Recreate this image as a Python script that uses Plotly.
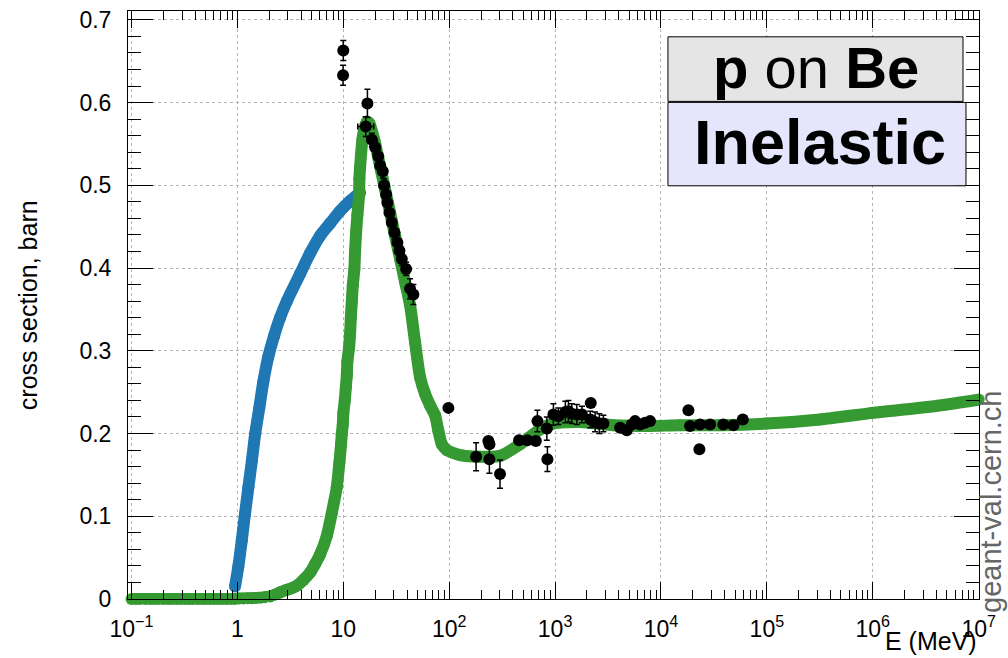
import plotly.graph_objects as go

# ---- model curves (E in MeV, cross section in barn) ----
green_E = [0.1, 0.11, 0.12, 0.135, 0.15, 0.165, 0.18, 0.2, 0.22, 0.24, 0.265, 0.29, 0.32,
           0.35, 0.38, 0.42, 0.46, 0.5, 0.55, 0.6, 0.66, 0.72, 0.79, 0.87, 0.95, 1.04,
           1.14, 1.25, 1.37, 1.5, 1.65, 1.8, 2.04, 2.25, 2.53, 2.9, 3.25, 3.64, 4.2,
           4.86, 5.4, 6.04, 6.98, 7.79, 8.68, 9.19,
           9.53, 9.67, 9.89, 10.02, 10.33, 10.56, 10.79, 10.93, 11.34, 11.60, 11.78,
           12.03, 12.29, 12.73, 12.92, 13.21, 13.59, 14.10, 14.19, 14.41, 14.73, 15.15,
           15.82, 16.67, 17.64, 19.97, 22.26, 24.81, 27.67, 30.84, 34.39, 38.34, 42.74,
           47.64, 53.1, 59.2, 66.0, 73.6, 79.1, 85.2, 94.9, 126.7, 195.7, 302.4, 467,
           722, 958, 1722, 3530, 7393, 15140, 36140, 1.0e5, 3.18e5, 1.0e6, 3.26e6, 1.0e7]
green_xs = [0.0, 0.0, 0.0, 0.0, 0.0, 0.0, 0.0, 0.0, 0.0, 0.0, 0.0, 0.0, 0.0,
            0.0, 0.0, 0.0, 0.0, 0.0, 0.0, 0.0, 0.0, 0.0, 0.0, 0.0, 0.0, 0.0005,
            0.0006, 0.0008, 0.001, 0.0012, 0.0015, 0.002, 0.003, 0.005, 0.008, 0.011, 0.013,
            0.016, 0.023, 0.032, 0.042, 0.054, 0.076, 0.104, 0.135,
            0.165, 0.187, 0.199, 0.211, 0.225, 0.240, 0.255, 0.270, 0.287, 0.304, 0.321,
            0.340, 0.359, 0.379, 0.399, 0.420, 0.443, 0.464, 0.488, 0.508, 0.522, 0.538,
            0.555, 0.569, 0.577, 0.575, 0.551, 0.523, 0.495, 0.467, 0.439, 0.411, 0.383,
            0.355, 0.310, 0.268, 0.248, 0.234, 0.222, 0.203, 0.187, 0.180, 0.174, 0.172,
            0.173, 0.187, 0.205, 0.212, 0.214, 0.210, 0.209, 0.210, 0.210, 0.212, 0.217,
            0.225, 0.232, 0.241]

blue_E = [0.95, 1.02, 1.10, 1.18, 1.27, 1.37, 1.47, 1.61, 1.76, 1.96, 2.22, 2.53, 2.93,
          3.91, 4.86, 6.04, 7.50, 9.33, 11.6, 14.4]
blue_xs = [0.015, 0.039, 0.071, 0.103, 0.135, 0.167, 0.199, 0.231, 0.263, 0.293, 0.318,
           0.340, 0.360, 0.393, 0.418, 0.439, 0.454, 0.469, 0.481, 0.491]

# ---- measurements ----
exp_E = [10.0, 9.95, 16.9, 16.3, 18.6, 20.0, 21.4, 22.3, 23.6, 24.3, 25.4, 26.1, 27.3,
         28.7, 30.4, 32.4, 33.9, 35.7, 39.2, 42.7, 45.9, 98.3, 179.5, 234.5, 240.0, 239.6,
         302, 457, 547, 658, 681, 836, 846, 964, 1075, 1250, 1336, 1438, 1603, 1795, 2173,
         2150, 2388, 2618, 2858, 4111, 4755, 5300, 5693, 6350, 7080, 7890, 18150, 18830,
         23050, 23400, 29100, 38800, 48300, 59200]
exp_xs = [0.663, 0.633, 0.599, 0.571, 0.555, 0.546, 0.535, 0.524, 0.517, 0.500, 0.489,
          0.479, 0.467, 0.455, 0.443, 0.431, 0.421, 0.411, 0.399, 0.375, 0.368, 0.231,
          0.172, 0.191, 0.187, 0.169, 0.151, 0.192, 0.192, 0.191, 0.215, 0.206, 0.169,
          0.223, 0.221, 0.226, 0.227, 0.224, 0.223, 0.223, 0.237, 0.217, 0.214, 0.212,
          0.212, 0.207, 0.204, 0.211, 0.215, 0.211, 0.213, 0.215, 0.228, 0.209, 0.181,
          0.211, 0.211, 0.211, 0.210, 0.217]
exp_err = [0.012, 0.012, 0.017, 0.012, 0.008, 0.008, 0.008, 0.008, 0.008, 0.008, 0.008,
           0.008, 0.008, 0.008, 0.008, 0.008, 0.008, 0.008, 0.008, 0.012, 0.012, 0.003,
           0.017, 0.004, 0.004, 0.017, 0.017, 0.004, 0.004, 0.004, 0.013, 0.014, 0.015,
           0.013, 0.010, 0.013, 0.013, 0.012, 0.012, 0.010, 0.004, 0.010, 0.012, 0.012,
           0.010, 0.003, 0.003, 0.003, 0.003, 0.003, 0.003, 0.003, 0.002, 0.002, 0.002,
           0.002, 0.002, 0.002, 0.002, 0.002]
exp_Eerr_hi = [0.0] * len(exp_E)
exp_Eerr_lo = [0.0] * len(exp_E)
exp_Eerr_hi[3] = 3.1
exp_Eerr_lo[3] = 2.6

# ---- axis ticks ----
x_tickvals = [0.1, 1, 10, 1e2, 1e3, 1e4, 1e5, 1e6, 1e7]
x_ticktext = ["10<sup>\u22121</sup>", "1", "10", "10<sup>2</sup>", "10<sup>3</sup>",
              "10<sup>4</sup>", "10<sup>5</sup>", "10<sup>6</sup>", "10<sup>7</sup>"]
x_minor = [k * 10.0 ** n for n in range(-1, 7) for k in range(2, 10)]

FONT = "Liberation Sans, Arial, Helvetica, sans-serif"
BLUE = "#1f77b4"
GREEN = "#359a32"
BAND = 12

fig = go.Figure()

fig.add_trace(go.Scatter(
    x=blue_E, y=blue_xs, mode="lines+markers", cliponaxis=False,
    line=dict(color=BLUE, width=BAND, shape="spline", smoothing=0.8),
    marker=dict(color=BLUE, size=BAND),
    hoverinfo="skip"))

fig.add_trace(go.Scatter(
    x=green_E, y=green_xs, mode="lines+markers", cliponaxis=False,
    line=dict(color=GREEN, width=BAND, shape="spline", smoothing=0.6),
    marker=dict(color=GREEN, size=BAND),
    hoverinfo="skip"))

fig.add_trace(go.Scatter(
    x=exp_E, y=exp_xs, mode="markers", cliponaxis=False,
    marker=dict(color="black", size=12),
    error_y=dict(type="data", array=exp_err, color="black", thickness=1.5, width=3),
    error_x=dict(type="data", array=exp_Eerr_hi, arrayminus=exp_Eerr_lo,
                 color="black", thickness=1.5, width=3),
    hoverinfo="skip"))

axis_common = dict(
    showline=True, linecolor="black", linewidth=1, mirror="ticks",
    ticks="inside", tickcolor="black", tickwidth=1,
    showgrid=True, gridcolor="#b4b4b4", griddash="dot", gridwidth=1,
    zeroline=False,
    tickfont=dict(family=FONT, size=23, color="black"),
)

fig.update_xaxes(
    type="log", range=[-1.033, 7.003],
    tickmode="array", tickvals=x_tickvals, ticktext=x_ticktext, ticklen=17,
    ticklabelstandoff=9,
    minor=dict(tickmode="array", tickvals=x_minor, ticks="inside", ticklen=9,
               tickcolor="black", showgrid=False),
    **axis_common)

fig.update_yaxes(
    range=[0, 0.7107], dtick=0.1, ticklen=25, ticklabelstandoff=11,
    minor=dict(dtick=0.02, ticks="inside", ticklen=13, tickcolor="black", showgrid=False),
    **axis_common)

annotations = [
    dict(text="cross section, barn", xref="paper", yref="paper", x=-0.118, y=0.499,
         textangle=-90, showarrow=False, xanchor="center", yanchor="middle",
         font=dict(family=FONT, size=25, color="black")),
    dict(text="E (MeV)", xref="paper", yref="paper", x=0.9436, y=-0.0709,
         showarrow=False, xanchor="center", yanchor="middle",
         font=dict(family=FONT, size=25, color="black")),
    dict(text="geant-val.cern.ch", xref="paper", yref="paper", x=1.0141, y=0.165,
         textangle=-90, showarrow=False, xanchor="center", yanchor="middle",
         font=dict(family=FONT, size=29, color="#666666")),
    dict(text="<b>p</b> on <b>Be</b>", xref="paper", yref="paper", x=0.809, y=0.904,
         showarrow=False, xanchor="center", yanchor="middle",
         font=dict(family=FONT, size=58, color="black")),
    dict(text="<b>Inelastic</b>", xref="paper", yref="paper", x=0.8137, y=0.777,
         showarrow=False, xanchor="center", yanchor="middle",
         font=dict(family=FONT, size=63, color="black")),
]

shapes = [
    dict(type="rect", xref="paper", yref="paper", x0=0.6345, x1=0.9812, y0=0.8463, y1=0.9561,
         fillcolor="#e5e5e5", line=dict(color="black", width=1), layer="above"),
    dict(type="rect", xref="paper", yref="paper", x0=0.6345, x1=0.9847, y0=0.7027, y1=0.8446,
         fillcolor="#e5e5fc", line=dict(color="black", width=1), layer="above"),
]

fig.update_layout(
    width=1008, height=658,
    margin=dict(l=128, r=29, t=7, b=59),
    paper_bgcolor="white", plot_bgcolor="white",
    showlegend=False,
    annotations=annotations, shapes=shapes,
    font=dict(family=FONT),
)

fig.write_html("out.html")
